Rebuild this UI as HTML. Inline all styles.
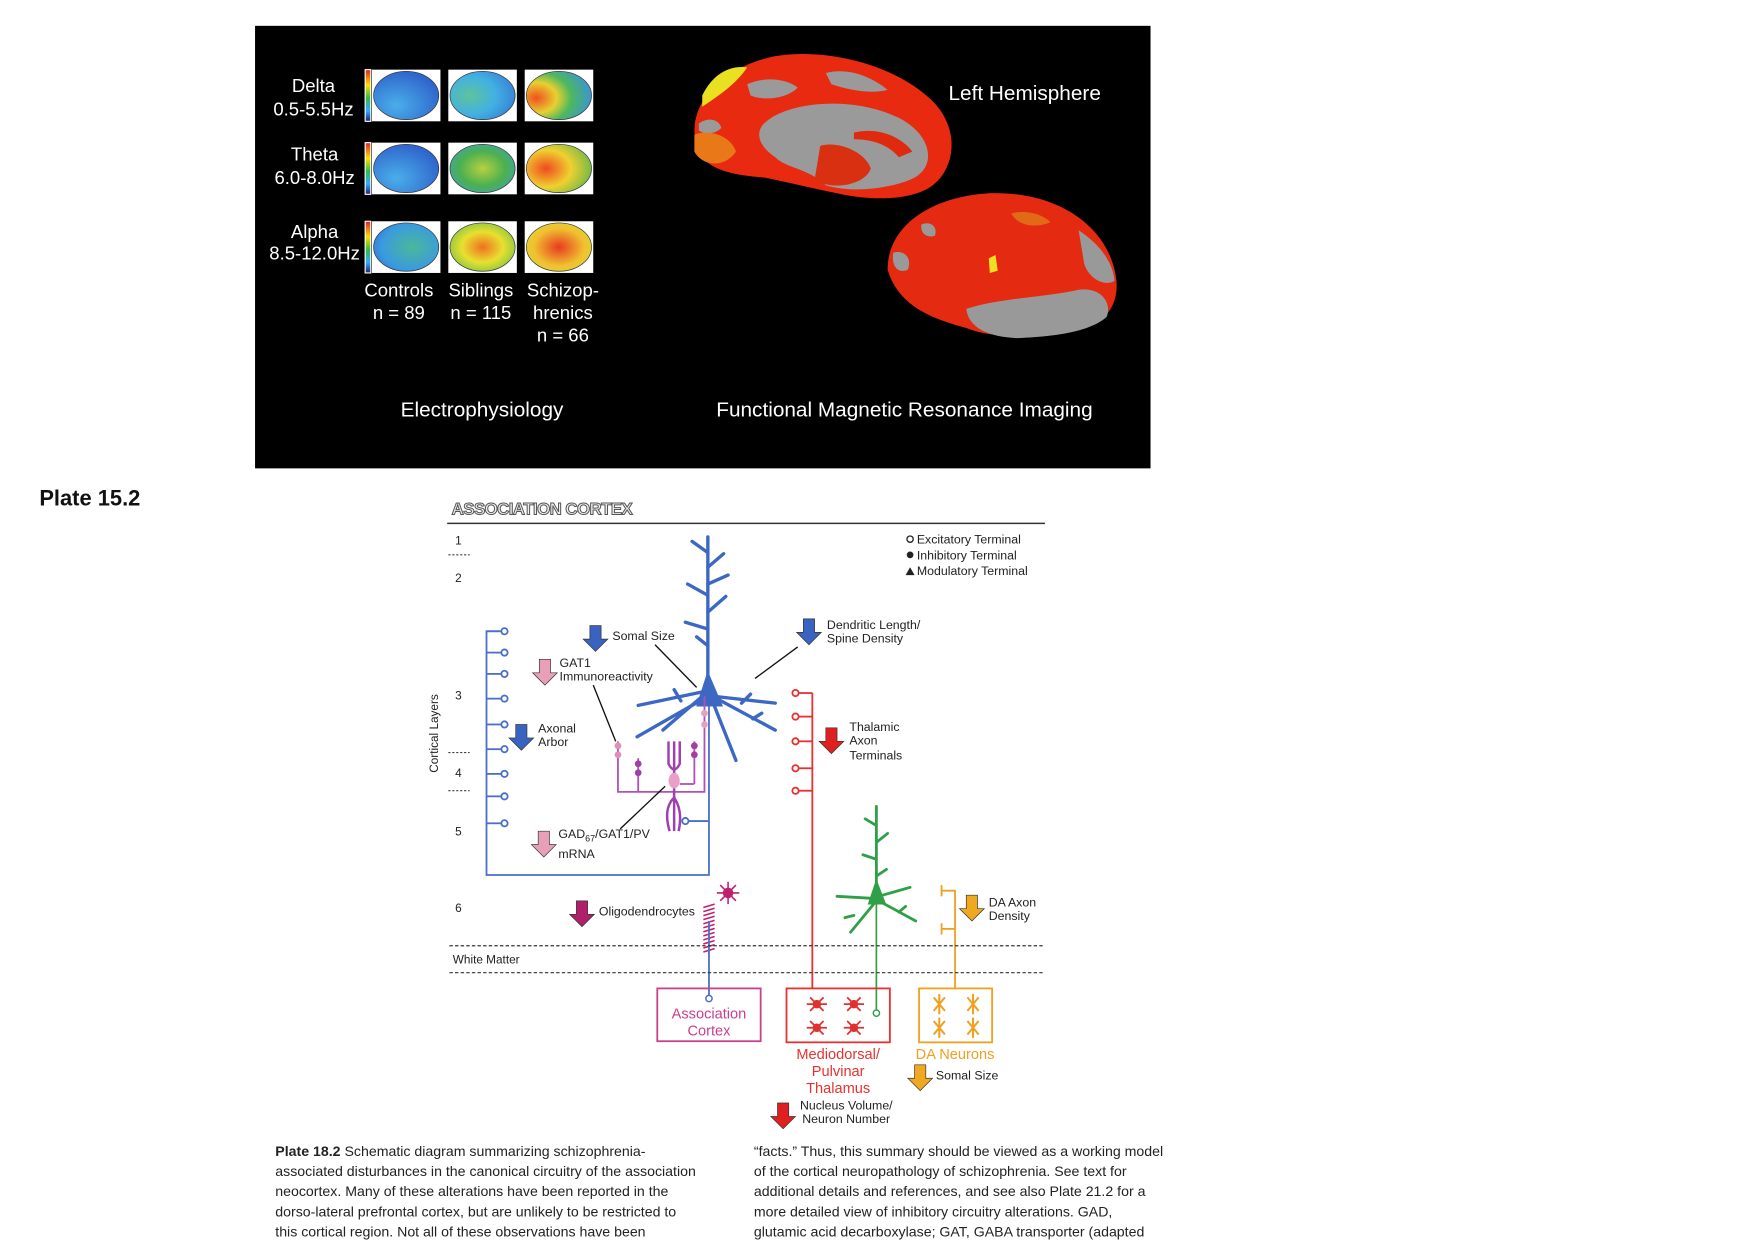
<!DOCTYPE html>
<html><head><meta charset="utf-8"><style>
html,body{margin:0;padding:0;background:#fff;width:1764px;height:1249px;overflow:hidden}
svg{display:block}
.w{font-family:"Liberation Sans",sans-serif;fill:#fff}
.d{font-family:"Liberation Sans",sans-serif;fill:#222}
</style></head><body>
<svg width="1764" height="1249" viewBox="0 0 1570 1112" preserveAspectRatio="none" xmlns="http://www.w3.org/2000/svg">
<defs>
<linearGradient id="cbar" x1="0" y1="0" x2="0" y2="1"><stop offset="0" stop-color="#d22"/><stop offset=".3" stop-color="#fd0"/><stop offset=".55" stop-color="#3b4"/><stop offset=".8" stop-color="#3af"/><stop offset="1" stop-color="#226"/></linearGradient>
<radialGradient id="gBlue" cx=".35" cy=".7" r=".8"><stop offset="0" stop-color="#4aaeea"/><stop offset="1" stop-color="#2c5cc8"/></radialGradient>
<radialGradient id="gCyan" cx=".3" cy=".5" r=".8"><stop offset="0" stop-color="#5ec49a"/><stop offset=".5" stop-color="#42b0e4"/><stop offset="1" stop-color="#3478d0"/></radialGradient>
<radialGradient id="gWarm" cx=".15" cy=".55" r=".9"><stop offset="0" stop-color="#f05020"/><stop offset=".35" stop-color="#e8d030"/><stop offset=".6" stop-color="#4cb860"/><stop offset="1" stop-color="#3a90e0"/></radialGradient>
<radialGradient id="gGreen" cx=".5" cy=".5" r=".7"><stop offset="0" stop-color="#b8d040"/><stop offset=".5" stop-color="#4cb050"/><stop offset="1" stop-color="#3aa0d0"/></radialGradient>
<radialGradient id="gHot" cx=".3" cy=".5" r=".85"><stop offset="0" stop-color="#f04a20"/><stop offset=".45" stop-color="#f0d030"/><stop offset="1" stop-color="#40b050"/></radialGradient>
<radialGradient id="gAlC" cx=".6" cy=".5" r=".8"><stop offset="0" stop-color="#4ab898"/><stop offset=".6" stop-color="#3a9ae0"/><stop offset="1" stop-color="#2c60c8"/></radialGradient>
<radialGradient id="gAlS" cx=".5" cy=".5" r=".7"><stop offset="0" stop-color="#f07020"/><stop offset=".45" stop-color="#e8e030"/><stop offset="1" stop-color="#50b848"/></radialGradient>
<radialGradient id="gAlZ" cx=".5" cy=".5" r=".7"><stop offset="0" stop-color="#e83a20"/><stop offset=".55" stop-color="#f0c030"/><stop offset="1" stop-color="#d8e030"/></radialGradient>
</defs>
<rect width="1570" height="1112" fill="#fff"/>

<g>
<rect x="227" y="23" width="797" height="394" fill="#000"/>
<g class="w" font-size="16.5" text-anchor="middle">
<text x="279" y="82">Delta</text>
<text x="279" y="103">0.5-5.5Hz</text>
<text x="280" y="143">Theta</text>
<text x="280" y="164">6.0-8.0Hz</text>
<text x="280" y="212">Alpha</text>
<text x="280" y="231">8.5-12.0Hz</text>
<text x="355" y="264">Controls</text>
<text x="355" y="284">n = 89</text>
<text x="428" y="264">Siblings</text>
<text x="428" y="284">n = 115</text>
<text x="501" y="264">Schizop-</text>
<text x="501" y="284">hrenics</text>
<text x="501" y="304">n = 66</text>
<text x="429" y="371" font-size="18.5">Electrophysiology</text>
<text x="805" y="371" font-size="18.5">Functional Magnetic Resonance Imaging</text>
<text x="912" y="89" font-size="18.5">Left Hemisphere</text>
</g>
<g id="topo"></g>

<g>
<path d="M620,130 C610,95 640,60 690,50 C740,42 800,60 830,90 C855,115 850,150 830,165 C810,180 770,178 745,172 C725,168 700,162 680,158 C650,156 625,150 620,130Z" fill="#e82a10"/>
<path d="M680,110 C700,90 760,85 800,105 C830,120 835,150 810,160 C790,168 760,172 735,165 C720,150 700,150 690,140 C675,130 672,118 680,110Z" fill="#9a9a9a"/>
<path d="M665,75 C680,68 700,70 710,78 C700,88 680,90 668,85Z" fill="#9a9a9a"/>
<path d="M735,65 C755,60 775,68 790,80 C775,84 755,80 740,75Z" fill="#9a9a9a"/>
<path d="M622,110 C630,104 640,106 642,114 C636,120 626,120 622,116Z" fill="#9a9a9a"/>
<path d="M730,130 C745,125 770,135 775,150 C770,165 740,170 725,160Z" fill="#d83010"/>
<path d="M760,118 C785,112 805,125 812,135 L800,140 C790,128 775,124 760,124Z" fill="#e02a10"/>
<path d="M625,85 C635,65 650,58 665,60 C655,75 640,85 625,95Z" fill="#e8e020"/>
<path d="M618,120 C630,115 650,120 655,135 C645,150 625,148 618,135Z" fill="#e87818"/>
</g>
<g>
<path d="M790,240 C790,200 830,175 880,172 C940,170 985,200 993,245 C998,275 980,292 950,295 C920,300 885,302 860,292 C835,285 800,275 790,240Z" fill="#e42a10"/>
<path d="M860,275 C890,265 930,265 960,258 C980,255 990,270 985,282 C970,296 935,300 905,301 C880,300 862,292 860,275Z" fill="#999"/>
<path d="M960,205 C975,215 990,230 992,250 C985,255 970,250 965,235Z" fill="#999"/>
<path d="M795,225 C805,222 812,230 808,240 C800,244 793,238 795,225Z" fill="#999"/>
<path d="M820,200 C828,196 835,202 832,210 C825,212 819,208 820,200Z" fill="#999"/>
<path d="M900,190 C915,186 930,192 935,198 C920,204 905,200 900,190Z" fill="#e06a18"/>
<path d="M880,230 l6,-3 l2,14 l-7,2Z" fill="#eee020"/>
</g>
</g>

<text x="35" y="450" font-family="Liberation Sans, sans-serif" font-weight="bold" font-size="19.5" fill="#111">Plate 15.2</text>

<g>
<text x="402" y="458" font-family="Liberation Sans, sans-serif" font-weight="bold" font-size="15" fill="#eee" stroke="#555" stroke-width="0.9" letter-spacing="-0.5">ASSOCIATION CORTEX</text>
<line x1="398" y1="466" x2="930" y2="466" stroke="#333" stroke-width="1.3"/>
<g class="d" font-size="10.5" text-anchor="middle">
<text x="408" y="485">1</text><text x="408" y="518">2</text><text x="408" y="623">3</text><text x="408" y="692">4</text><text x="408" y="744">5</text><text x="408" y="812">6</text>
</g>
<g stroke="#444" stroke-width="1" stroke-dasharray="2,1.5"><line x1="399" y1="494" x2="418" y2="494"/><line x1="399" y1="670" x2="418" y2="670"/><line x1="399" y1="704" x2="418" y2="704"/></g>
<text transform="translate(390,688) rotate(-90)" class="d" font-size="10.5">Cortical   Layers</text>
<g class="d" font-size="11">
<circle cx="810" cy="480" r="2.8" fill="none" stroke="#222" stroke-width="1.2"/><text x="816" y="484">Excitatory Terminal</text>
<circle cx="810" cy="494" r="3" fill="#222"/><text x="816" y="498">Inhibitory Terminal</text>
<path d="M806,512 l4,-7 l4,7Z" fill="#222"/><text x="816" y="512">Modulatory Terminal</text>
</g>
<g stroke="#4a6fc8" stroke-width="1.6" fill="none">
<polyline points="631,610 631,779 433,779 433,562 445,562"/>
<g id="blueTerms"></g>
<line x1="631" y1="731" x2="613" y2="731"/><circle cx="610" cy="731" r="2.8" fill="#fff"/>
</g>
<g stroke="#3c68c4" stroke-width="3" fill="none" stroke-linecap="round">
<path d="M630,610 L630,478"/><path d="M630,530 l-18,-10 M630,545 l16,-14 M630,560 l-20,-6 M630,505 l14,-12 M630,492 l-14,-10 M630,520 l18,-8 M630,575 l-10,-8"/>
<path d="M630,615 L568,628 M630,620 L567,656 M636,620 L690,626 M638,622 L690,650 M634,624 L655,677 M625,620 L590,650"/>
<path d="M606,624 l-6,-10 M660,626 l8,-8 M670,640 l8,-5"/>
<path d="M621,628 L630,600 L642,628Z" fill="#3c68c4" stroke-width="2"/>
</g>
<g stroke="#b050b8" stroke-width="1.6" fill="none">
<polyline points="550,660 550,705 627,705 627,620"/>
<line x1="568" y1="675" x2="568" y2="705"/><line x1="618" y1="660" x2="618" y2="698"/><line x1="618" y1="698" x2="605" y2="698"/>
<path d="M600,740 L600,660 M595,660 L595,680 Q600,690 605,680 L605,660 M600,710 Q590,720 596,740 M600,710 Q608,722 604,740" stroke="#a040b0" stroke-width="2.2"/>
<ellipse cx="600" cy="695" rx="5" ry="7" fill="#e8a0c8" stroke="none"/>
<circle cx="550" cy="664" r="3" fill="#e090b8" stroke="none"/><circle cx="550" cy="672" r="3" fill="#e090b8" stroke="none"/>
<circle cx="568" cy="680" r="3" fill="#a040a0" stroke="none"/><circle cx="568" cy="688" r="3" fill="#a040a0" stroke="none"/>
<circle cx="618" cy="664" r="3" fill="#a040a0" stroke="none"/><circle cx="618" cy="672" r="3" fill="#a040a0" stroke="none"/>
<circle cx="627" cy="635" r="3" fill="#e8a0c0" stroke="none"/><circle cx="627" cy="645" r="3" fill="#e8a0c0" stroke="none"/>
</g>
<g stroke="#111" stroke-width="1.2"><line x1="583" y1="574" x2="620" y2="612"/><line x1="710" y1="576" x2="672" y2="604"/><line x1="528" y1="610" x2="548" y2="660"/><line x1="552" y1="738" x2="592" y2="700"/></g>
<g stroke="#e83030" stroke-width="1.6" fill="none">
<line x1="723" y1="617" x2="723" y2="880"/><g id="redTerms"></g>
</g>
<g stroke="#30a048" stroke-width="2.5" fill="none" stroke-linecap="round">
<path d="M780,800 L780,718 M780,735 l-10,-6 M780,750 l10,-8 M780,765 l-12,-4 M780,780 l9,-6"/>
<path d="M780,800 L745,798 M780,802 L757,830 M782,802 L815,820 M782,798 L810,790 M760,815 l-8,2 M800,812 l6,-5"/>
<path d="M774,804 L780,786 L787,804Z" fill="#30a048"/>
<line x1="780" y1="800" x2="780" y2="900" stroke-width="1.5"/><circle cx="780" cy="902" r="2.8" fill="#fff" stroke-width="1.3"/>
</g>
<g stroke="#f0a020" stroke-width="1.6" fill="none">
<polyline points="850,880 850,793 838,793"/><line x1="850" y1="827" x2="838" y2="827"/>
<line x1="838" y1="788" x2="838" y2="798"/><line x1="838" y1="822" x2="838" y2="832"/>
</g>
<g stroke="#c02070" stroke-width="1.4">
<g id="oligo"></g>
<circle cx="648" cy="795" r="4" fill="#c02070"/>
<path d="M648,785 v20 M638,795 h20 M641,788 l14,14 M655,788 l-14,14"/>
</g>
<line x1="631" y1="820" x2="631" y2="886" stroke="#4a6fc8" stroke-width="1.6"/><circle cx="631" cy="889" r="2.8" fill="#fff" stroke="#4a6fc8" stroke-width="1.3"/>
<g stroke="#333" stroke-width="1.1" stroke-dasharray="3,2"><line x1="400" y1="842" x2="930" y2="842"/><line x1="400" y1="866" x2="930" y2="866"/></g>
<text x="403" y="858" class="d" font-size="10.5">White Matter</text>
<rect x="585" y="880" width="92" height="47" fill="none" stroke="#c8408c" stroke-width="1.6"/>
<text x="631" y="907" font-family="Liberation Sans, sans-serif" font-size="13" fill="#c8408c" text-anchor="middle">Association</text>
<text x="631" y="922" font-family="Liberation Sans, sans-serif" font-size="13" fill="#c8408c" text-anchor="middle">Cortex</text>
<rect x="700" y="880" width="92" height="48" fill="none" stroke="#e83030" stroke-width="1.6"/>
<g fill="#e03030" stroke="#e03030" stroke-width="1.6" id="thalCells"></g>
<rect x="818" y="880" width="65" height="48" fill="none" stroke="#f0a020" stroke-width="1.6"/>
<g stroke="#f0a020" stroke-width="1.8" id="daCells"></g>
<g font-family="Liberation Sans, sans-serif" font-size="13" text-anchor="middle">
<text x="746" y="943" fill="#e83030">Mediodorsal/</text><text x="746" y="958" fill="#e83030">Pulvinar</text><text x="746" y="973" fill="#e83030">Thalamus</text>
<text x="850" y="943" fill="#f0a020">DA Neurons</text>
</g>
<g id="arrows"></g>
<g class="d" font-size="11">
<text x="545" y="570">Somal Size</text>
<text x="498" y="594">GAT1</text><text x="498" y="606">Immunoreactivity</text>
<text x="479" y="652">Axonal</text><text x="479" y="664">Arbor</text>
<text x="736" y="560">Dendritic Length/</text><text x="736" y="572">Spine Density</text>
<text x="756" y="651">Thalamic</text><text x="756" y="663">Axon</text><text x="756" y="676">Terminals</text>
<text x="497" y="746">GAD<tspan font-size="8" dy="3">67</tspan><tspan dy="-3">/GAT1/PV</tspan></text><text x="497" y="764">mRNA</text>
<text x="533" y="815">Oligodendrocytes</text>
<text x="880" y="807">DA Axon</text><text x="880" y="819">Density</text>
<text x="833" y="961">Somal Size</text>
<text x="712" y="988">Nucleus Volume/</text><text x="714" y="1000">Neuron Number</text>
</g>
</g>

<g class="d" font-size="12.6" fill="#222">
<text x="245" y="1029"><tspan font-weight="bold">Plate 18.2</tspan> Schematic diagram summarizing schizophrenia-</text>
<text x="245" y="1047">associated disturbances in the canonical circuitry of the association</text>
<text x="245" y="1065">neocortex. Many of these alterations have been reported in the</text>
<text x="245" y="1083">dorso-lateral prefrontal cortex, but are unlikely to be restricted to</text>
<text x="245" y="1101">this cortical region. Not all of these observations have been</text>
<text x="671" y="1029">“facts.” Thus, this summary should be viewed as a working model</text>
<text x="671" y="1047">of the cortical neuropathology of schizophrenia. See text for</text>
<text x="671" y="1065">additional details and references, and see also Plate 21.2 for a</text>
<text x="671" y="1083">more detailed view of inhibitory circuitry alterations. GAD,</text>
<text x="671" y="1101">glutamic acid decarboxylase; GAT, GABA transporter (adapted</text>
</g>
</svg>
<script>
const NS='http://www.w3.org/2000/svg';
const groups=['Controls','Siblings','Schizophrenics'];
const bands=['Delta','Theta','Alpha'];
const mapFills=[['gBlue','gCyan','gWarm'],['gBlue','gGreen','gHot'],['gAlC','gAlS','gAlZ']];
const colX=[331,399,467];
const rowY=[62,127,197];
const blueTermY=[562,581,600,622,645,667,689,709,733];
const redTermY=[617,638,660,684,704];
const arrowsX=[530,485,464,720,740,484,518,865,819,697];
const arrowsY=[557,587,645,551,648,740,802,797,948,982];
const arrowsC=['#3a62c0','#e8a0b8','#3a62c0','#3a62c0','#e02020','#e8a0b8','#b0206a','#f0a820','#f0a820','#e02020'];
function mk(t,a,p){const e=document.createElementNS(NS,t);for(const k in a)e.setAttribute(k,a[k]);p.appendChild(e);return e;}
const topo=document.getElementById('topo');
rowY.forEach((y,r)=>{
  mk('rect',{x:colX[0]-6,y:y,width:5,height:46,fill:'url(#cbar)',stroke:'#fff','stroke-width':1},topo);
  colX.forEach((x,c)=>{
    mk('rect',{x:x,y:y,width:61,height:46,fill:'#fff'},topo);
    const el=mk('ellipse',{cx:x+30.5,cy:y+23,rx:29,ry:21.5,fill:'url(#'+mapFills[r][c]+')',stroke:'#333','stroke-width':0.6},topo);
    
    
  });
});
const bt=document.getElementById('blueTerms');
blueTermY.forEach(y=>{mk('line',{x1:433,y1:y,x2:446,y2:y},bt);mk('circle',{cx:449,cy:y,r:2.8,fill:'#fff'},bt);});
const rt=document.getElementById('redTerms');
redTermY.forEach(y=>{mk('line',{x1:723,y1:y,x2:711,y2:y},rt);mk('circle',{cx:708,cy:y,r:2.8,fill:'#fff'},rt);});
const ol=document.getElementById('oligo');
for(let i=0;i<12;i++){const y=806+i*3.6;mk('line',{x1:626,y1:y+2,x2:636,y2:y-1},ol);}
const tc=document.getElementById('thalCells');
[[727,894],[760,894],[727,915],[760,915]].forEach(p=>{mk('circle',{cx:p[0],cy:p[1],r:3},tc);mk('path',{d:`M${p[0]-9},${p[1]} h18 M${p[0]-6},${p[1]-6} l12,12 M${p[0]+6},${p[1]-6} l-12,12`,fill:'none'},tc);});
const dc=document.getElementById('daCells');
[[836,894],[866,894],[836,915],[866,915]].forEach(p=>{mk('path',{d:`M${p[0]},${p[1]-9} v18 M${p[0]-5},${p[1]-6} l10,12 M${p[0]+5},${p[1]-6} l-10,12`,fill:'none'},dc);});
const ar=document.getElementById('arrows');
arrowsX.forEach((x,i)=>{const y=arrowsY[i];
  const a=mk('path',{d:`M${x-5},${y} h10 v12 h6 l-11,11 l-11,-11 h6Z`,fill:arrowsC[i],stroke:'#333','stroke-width':0.6},ar);
  
  
});
</script>
</body></html>
